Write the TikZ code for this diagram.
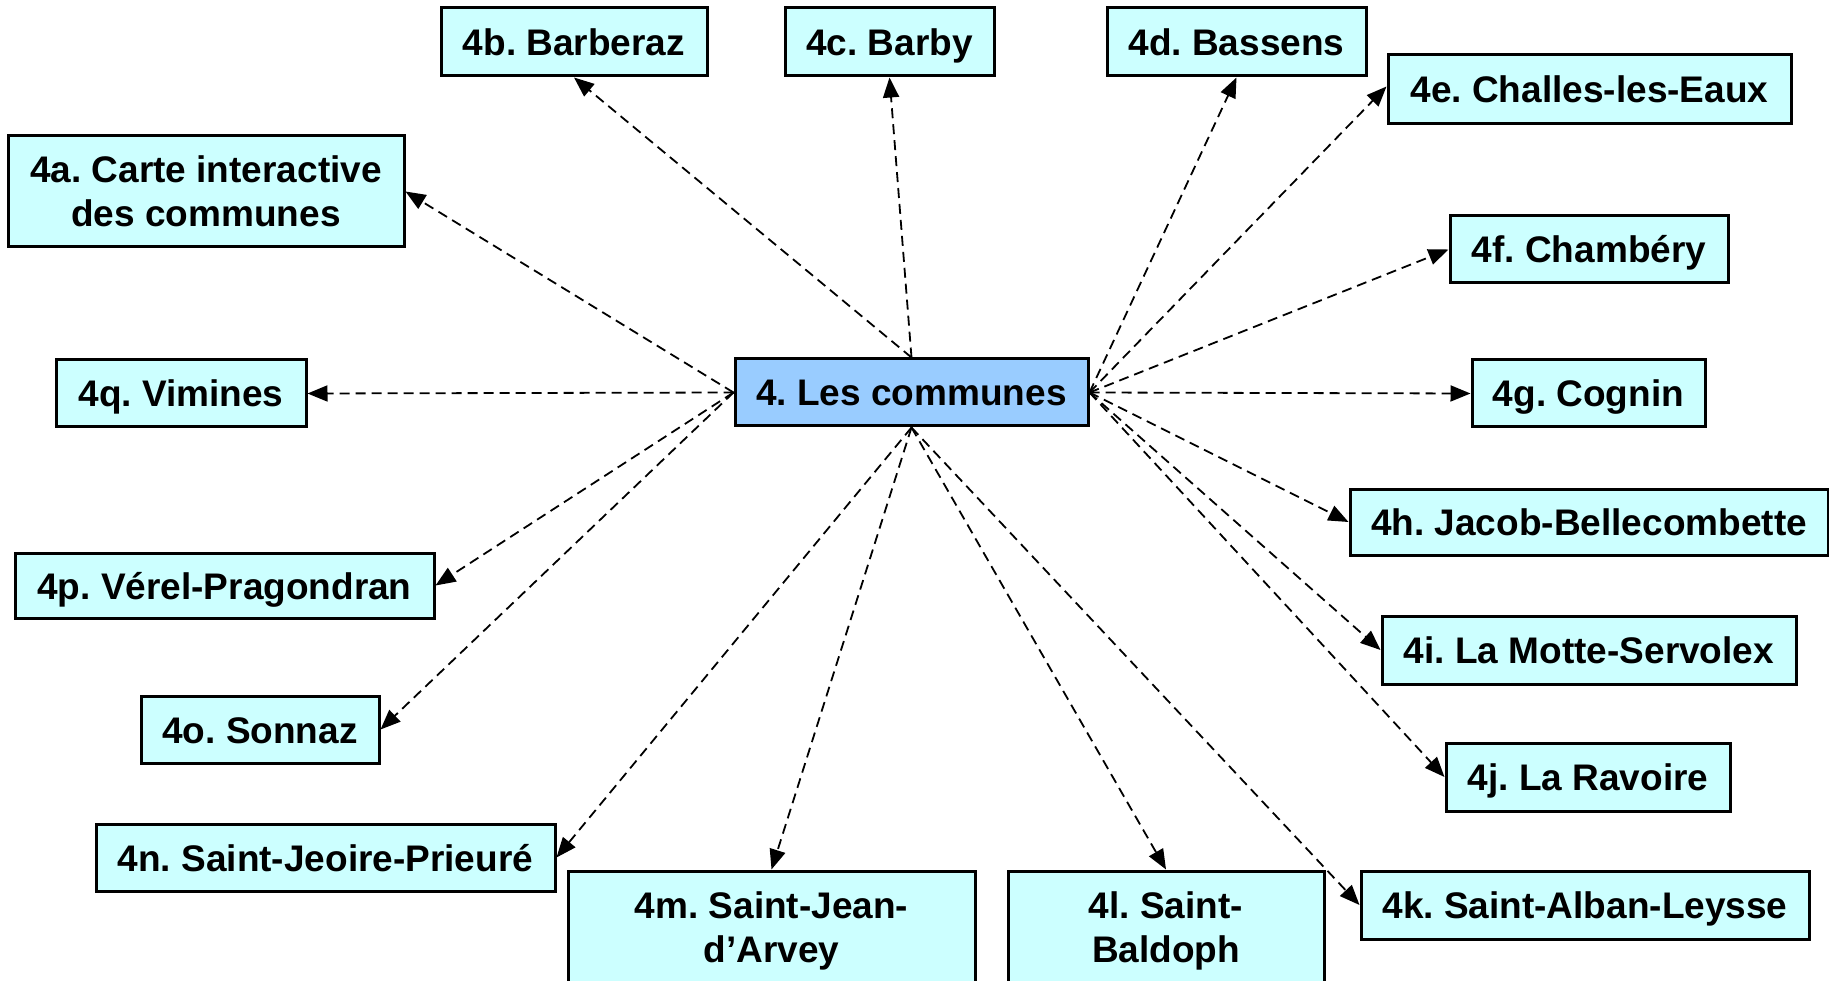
\documentclass[tikz,border=0pt]{standalone}
\usepackage{fontspec}
\setmainfont{Liberation Sans}
\usetikzlibrary{arrows.meta}
\definecolor{leafcyan}{HTML}{CCFFFF}
\definecolor{hubblue}{HTML}{99CCFF}
\frenchspacing
\tikzset{
  box/.style={draw=black, line width=3pt, fill=leafcyan, inner sep=0pt,
    text height=27pt, text depth=0pt,
    align=center, font=\fontsize{37}{44}\selectfont\bfseries},
  twoline/.style={box, text height=71pt},
  hub/.style={box, fill=hubblue},
  link/.style={line width=1.8pt, dash pattern=on 10pt off 6pt,
    -{Triangle[length=20pt,width=16pt]}},
}
\newcommand{\bx}[6]{\node[#1, minimum width=#4pt, minimum height=#5pt] (#2) at (#3) {#6};}
\begin{document}
\begin{tikzpicture}[x=1pt,y=-1pt]
\useasboundingbox (0,0) rectangle (1829,981);
\clip (0,0) rectangle (1829,981);
\fill[white] (0,0) rectangle (1829,981);
% hub
\bx{hub}{c}{911.5,392.5}{353}{67}{4. Les communes}
% leaves
\bx{twoline}{a}{206,191.5}{396}{111}{4a. Carte interactive\\des communes}
\bx{box}{b}{574,42}{266}{68}{4b. Barberaz}
\bx{box}{cc}{889.5,42}{209}{68}{4c. Barby}
\bx{box}{d}{1236.5,42}{259}{68}{4d. Bassens}
\bx{box}{e}{1589.5,89.5}{403}{69}{4e. Challes-les-Eaux}
\bx{box}{f}{1589,249.5}{278}{67}{4f. Chambéry}
\bx{box}{g}{1588.5,393.5}{233}{67}{4g. Cognin}
\bx{box}{h}{1589,522}{478}{66}{4h. Jacob-Bellecombette}
\bx{box}{i}{1589,650}{414}{68}{4i. La Motte-Servolex}
\bx{box}{j}{1588,777}{284}{68}{4j. La Ravoire}
\bx{box}{k}{1585,905}{448}{68}{4k. Saint-Alban-Leysse}
\bx{twoline}{l}{1166,927}{316}{112}{4l. Saint-\\Baldoph}
\bx{twoline}{m}{771.5,927}{407}{112}{4m. Saint-Jean-\\d’Arvey}
\bx{box}{n}{325.5,857.5}{459}{67}{4n. Saint-Jeoire-Prieuré}
\bx{box}{o}{260,729.5}{238}{67}{4o. Sonnaz}
\bx{box}{p}{224.5,585.5}{419}{65}{4p. Vérel-Pragondran}
\bx{box}{q}{181,393.5}{250}{67}{4q. Vimines}
% connectors
\draw[link] (c.north) -- (b.south);
\draw[link] (c.north) -- (cc.south);
\draw[link] (c.east) -- (d.south);
\draw[link] (c.east) -- ([yshift=3pt]e.west);
\draw[link] (c.east) -- (f.west);
\draw[link] (c.east) -- (g.west);
\draw[link] (c.east) -- (h.west);
\draw[link] (c.east) -- (i.west);
\draw[link] (c.east) -- (j.west);
\draw[link] (c.south) -- (k.west);
\draw[link] (c.south) -- (l.north);
\draw[link] (c.south) -- (m.north);
\draw[link] (c.south) -- (n.east);
\draw[link] (c.west) -- (o.east);
\draw[link] (c.west) -- (p.east);
\draw[link] (c.west) -- (q.east);
\draw[link] (c.west) -- (a.east);
\end{tikzpicture}
\end{document}
